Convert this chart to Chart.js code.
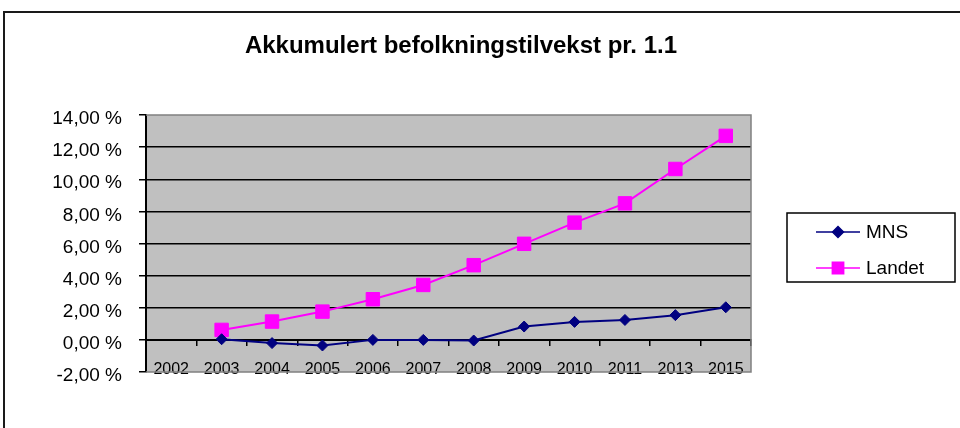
<!DOCTYPE html>
<html>
<head>
<meta charset="utf-8">
<script src="https://cdn.jsdelivr.net/npm/chart.js@4.4.1/dist/chart.umd.min.js"></script>
<style>
  html, body { margin: 0; padding: 0; background: #ffffff; }
  #wrap { width: 960px; height: 428px; position: relative; }
</style>
</head>
<body>
<div id="wrap"><canvas id="c" width="960" height="428"></canvas></div>
<script>
const titleText = 'Akkumulert befolkningstilvekst pr. 1.1';
const years = ['2002','2003','2004','2005','2006','2007','2008','2009','2010','2011','2013','2015'];
const mnsValues = [null, 0.04, -0.2, -0.35, 0.0, 0.0, -0.04, 0.83, 1.12, 1.24, 1.54, 2.03];
const landetValues = [null, 0.62, 1.14, 1.76, 2.53, 3.42, 4.65, 5.98, 7.30, 8.50, 10.64, 12.70];
const seriesNames = ['MNS', 'Landet'];
const yMin = -2, yMax = 14, yStep = 2;

const FONT = '"Liberation Sans", Arial, Helvetica, sans-serif';

function fmtPct(v) {
  return v.toFixed(2).replace('.', ',') + ' %';
}

const framePlugin = {
  id: 'frame',
  beforeDraw(chart) {
    const ctx = chart.ctx;
    const a = chart.chartArea;
    ctx.save();
    // outer chart frame (right and bottom edges fall outside the picture)
    ctx.strokeStyle = '#1a1a1a';
    ctx.lineWidth = 2;
    ctx.strokeRect(4, 12, 980, 440);
    // plot area background
    ctx.fillStyle = '#c0c0c0';
    ctx.fillRect(a.left, a.top, a.right - a.left, a.bottom - a.top);
    ctx.restore();
  },
  afterDatasetsDraw(chart) {
    const ctx = chart.ctx;
    const a = chart.chartArea;
    ctx.save();
    ctx.strokeStyle = '#808080';
    ctx.lineWidth = 1.5;
    ctx.beginPath();
    ctx.moveTo(a.left, a.top);
    ctx.lineTo(a.right, a.top);
    ctx.lineTo(a.right, a.bottom);
    ctx.lineTo(a.left, a.bottom);
    ctx.stroke();
    ctx.restore();
  },
  afterDraw(chart) {
    // legend
    const ctx = chart.ctx;
    ctx.save();
    ctx.strokeStyle = '#000000';
    ctx.lineWidth = 1.5;
    ctx.strokeRect(787, 213, 168, 69);
    chart.data.datasets.forEach((ds, i) => {
      const y = 232 + i * 36;
      ctx.strokeStyle = ds.borderColor;
      ctx.lineWidth = 1.5;
      ctx.beginPath();
      ctx.moveTo(816, y);
      ctx.lineTo(860, y);
      ctx.stroke();
      ctx.fillStyle = ds.backgroundColor;
      ctx.strokeStyle = ds.borderColor;
      Chart.helpers.drawPoint(ctx, {
        pointStyle: ds.pointStyle,
        radius: ds.legendRadius,
        borderWidth: 1,
        rotation: 0
      }, 838, y);
      ctx.fillStyle = '#000000';
      ctx.font = '19px ' + FONT;
      ctx.textBaseline = 'middle';
      ctx.textAlign = 'left';
      ctx.fillText(ds.label, 866, y + 1);
    });
    ctx.restore();
  }
};

new Chart(document.getElementById('c'), {
  type: 'line',
  data: {
    labels: years,
    datasets: [
      {
        label: seriesNames[0],
        data: mnsValues,
        borderColor: '#000080',
        backgroundColor: '#000080',
        borderWidth: 2,
        pointStyle: 'rectRot',
        pointRadius: 5.5,
        pointBorderWidth: 1,
        pointBackgroundColor: '#000080',
        pointBorderColor: '#000080',
        legendRadius: 5.5,
        tension: 0,
        spanGaps: false
      },
      {
        label: seriesNames[1],
        data: landetValues,
        borderColor: '#ff00ff',
        backgroundColor: '#ff00ff',
        borderWidth: 2,
        pointStyle: 'rect',
        pointRadius: 9.5,
        pointBorderWidth: 1,
        pointBackgroundColor: '#ff00ff',
        pointBorderColor: '#ff00ff',
        legendRadius: 8,
        tension: 0,
        spanGaps: false
      }
    ]
  },
  options: {
    responsive: false,
    animation: false,
    events: [],
    layout: { padding: { left: 0, right: 38, top: 0, bottom: 56 } },
    plugins: {
      legend: { display: false },
      tooltip: { enabled: false },
      title: {
        display: true,
        text: titleText,
        color: '#000000',
        font: { family: FONT, size: 24, weight: 'bold', lineHeight: 1.2 },
        padding: { top: 31.6, bottom: 54.6 }
      }
    },
    scales: {
      x: {
        type: 'category',
        position: { y: 0 },
        offset: true,
        grid: {
          display: true,
          offset: true,
          drawOnChartArea: false,
          drawTicks: true,
          tickLength: 5,
          color: '#000000',
          lineWidth: 1.5
        },
        border: { display: true, color: '#000000', width: 2 },
        ticks: {
          color: '#000000',
          font: { family: FONT, size: 16 },
          padding: 15,
          maxRotation: 0,
          autoSkip: false
        }
      },
      y: {
        position: 'left',
        min: yMin,
        max: yMax,
        afterFit(scale) { scale.width = 146; },
        grid: {
          color(ctx) {
            const v = ctx.tick ? ctx.tick.value : 0;
            return (v === yMax || v === yMin) ? 'rgba(0,0,0,0)' : '#000000';
          },
          tickColor: '#000000',
          lineWidth: 1.5,
          drawTicks: true,
          tickLength: 7,
        },
        border: { display: true, color: '#000000', width: 2 },
        ticks: {
          stepSize: yStep,
          color: '#000000',
          font: { family: FONT, size: 19 },
          padding: 17,
          labelOffset: 4,
          callback: (v) => fmtPct(v)
        }
      },
      yPad: {
        position: 'right',
        display: true,
        afterFit(scale) { scale.width = 171; },
        grid: { display: false },
        border: { display: false },
        ticks: { display: false }
      }
    }
  },
  plugins: [framePlugin]
});
</script>
</body>
</html>
